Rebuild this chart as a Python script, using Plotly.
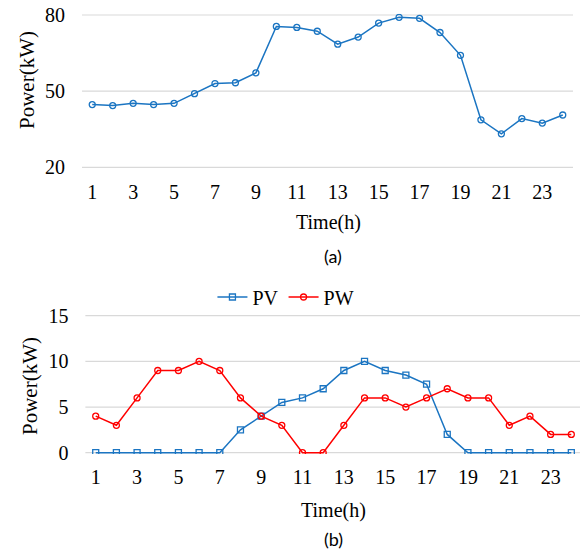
import plotly.graph_objects as go

hours = list(range(1, 25))
load_kw = [44.7, 44.3, 45.2, 44.7, 45.2, 49.0, 53.0, 53.3, 57.2, 75.5, 75.1, 73.6,
           68.5, 71.3, 76.8, 79.1, 78.7, 73.1, 64.1, 38.7, 33.2, 39.2, 37.4, 40.6]
pv_kw = [0, 0, 0, 0, 0, 0, 0, 2.5, 4, 5.5, 6, 7, 9, 10, 9, 8.5, 7.5, 2, 0, 0, 0, 0, 0, 0]
pw_kw = [4, 3, 6, 9, 9, 10, 9, 6, 4, 3, 0, 0, 3, 6, 6, 5, 6, 7, 6, 6, 3, 4, 2, 2]
x_ticks = [1, 3, 5, 7, 9, 11, 13, 15, 17, 19, 21, 23]
top_yticks = [20, 50, 80]
bot_yticks = [0, 5, 10, 15]

BLUE = "#1B75C2"
RED = "#FF0000"
GRID = "#D9D9D9"
SERIF = "Liberation Serif, Times New Roman, serif"
SANS = "Lato, Carlito, Calibri, sans-serif"

fig = go.Figure()

fig.add_trace(go.Scatter(
    x=hours, y=load_kw, mode="lines+markers", showlegend=False,
    line=dict(color=BLUE, width=1.5),
    marker=dict(symbol="circle-open", size=6, color=BLUE, line=dict(width=1.3, color=BLUE)),
    xaxis="x", yaxis="y"))

fig.add_trace(go.Scatter(
    x=hours, y=pv_kw, mode="lines+markers", name="PV",
    line=dict(color=BLUE, width=1.5),
    marker=dict(symbol="square-open", size=6, color=BLUE, line=dict(width=1.3, color=BLUE)),
    xaxis="x2", yaxis="y2"))

fig.add_trace(go.Scatter(
    x=hours, y=pw_kw, mode="lines+markers", name="PW",
    line=dict(color=RED, width=1.5),
    marker=dict(symbol="circle-open", size=6, color=RED, line=dict(width=1.3, color=RED)),
    xaxis="x2", yaxis="y2"))

axis_font = dict(family=SERIF, size=20, color="#000000")

fig.update_layout(
    width=580, height=553,
    margin=dict(l=0, r=0, t=0, b=0, autoexpand=False),
    paper_bgcolor="white", plot_bgcolor="white",
    xaxis=dict(domain=[0.1414, 0.9879], range=[0.5, 24.5], tickvals=x_ticks,
               showgrid=False, zeroline=False, showline=False, automargin=False,
               tickfont=axis_font, ticks="", ticklabelstandoff=9, anchor="y"),
    yaxis=dict(domain=[0.6952, 0.97517], range=[19.5, 80.5], tickvals=top_yticks,
               showgrid=False, zeroline=False, showline=False,
               automargin=False,
               tickfont=axis_font, ticks="", ticklabelstandoff=16, anchor="x"),
    xaxis2=dict(domain=[0.1472, 1.0], range=[0.5, 24.42], tickvals=x_ticks,
                showgrid=False, zeroline=False, showline=False, automargin=False,
                tickfont=axis_font, ticks="", ticklabelstandoff=9, anchor="y2"),
    yaxis2=dict(domain=[0.1789, 0.43159], range=[-0.15, 15.15], tickvals=bot_yticks,
                showgrid=False, zeroline=False, showline=False,
                automargin=False,
                tickfont=axis_font, ticks="", ticklabelstandoff=16, anchor="x2"),
    legend=dict(orientation="h", x=0.493, xanchor="center", y=1 - 297 / 553, yanchor="middle",
                font=dict(family=SERIF, size=20, color="#000000"), bgcolor="rgba(0,0,0,0)",
                itemwidth=30),
)

# horizontal gridlines at each y tick, placed through the axes' own scales
shapes = []
for v in top_yticks:
    shapes.append(dict(type="line", xref="x domain", yref="y", x0=0, x1=1, y0=v, y1=v,
                       line=dict(color=GRID, width=1.2), layer="below"))
for v in bot_yticks:
    shapes.append(dict(type="line", xref="x2 domain", yref="y2", x0=0, x1=1, y0=v, y1=v,
                       line=dict(color=GRID, width=1.2), layer="below"))

ann = []
def add_text(text, x, y, size, family, angle=0):
    ann.append(dict(text=text, x=x / 580, y=1 - y / 553, xref="paper", yref="paper",
                    xanchor="center", yanchor="middle", showarrow=False, textangle=angle,
                    font=dict(family=family, size=size, color="#000000")))

add_text("Power(kW)", 27, 80, 21, SERIF, -90)
add_text("Time(h)", 328, 222, 20, SERIF)
add_text("(a)", 333, 256, 18, SANS)
add_text("Power(kW)", 30, 386, 21, SERIF, -90)
add_text("Time(h)", 333, 510, 20, SERIF)
add_text("(b)", 333, 539, 18, SANS)

fig.update_layout(annotations=ann, shapes=shapes)
fig.write_html("out.html")
